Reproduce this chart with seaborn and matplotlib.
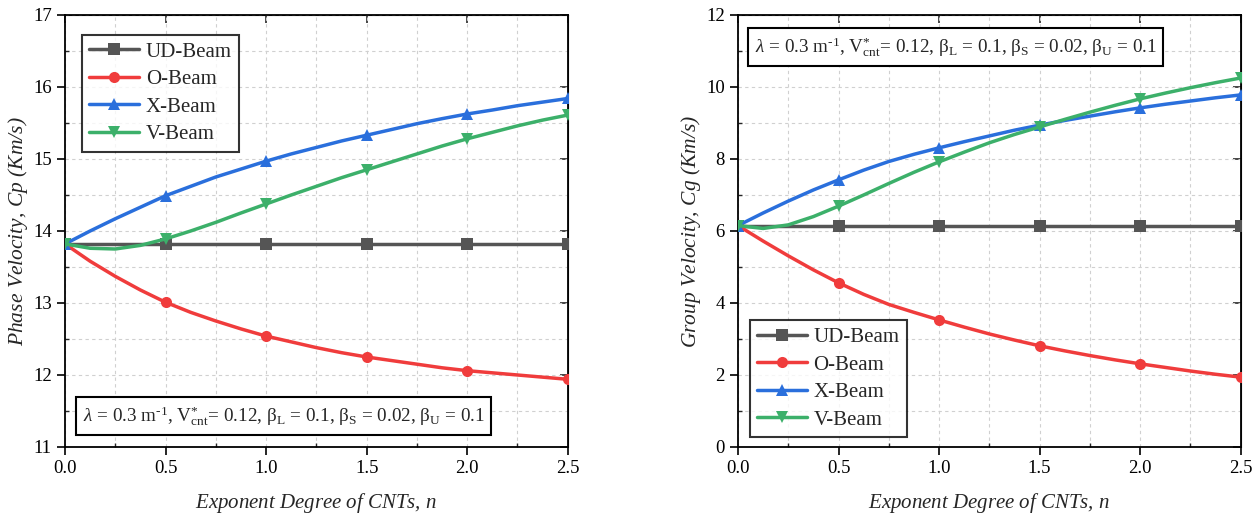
import numpy as np
import pandas as pd
import matplotlib
matplotlib.use("Agg")
import matplotlib.pyplot as plt
import seaborn as sns
from matplotlib.ticker import MultipleLocator

# ---- data ----
n_vals = [0.0, 0.125, 0.25, 0.375, 0.5, 0.625, 0.75, 0.875, 1.0, 1.125, 1.25,
          1.375, 1.5, 1.625, 1.75, 1.875, 2.0, 2.125, 2.25, 2.375, 2.5]
series_names = ["UD-Beam", "O-Beam", "X-Beam", "V-Beam"]

cp_ud = [13.82] * 21
cp_o = [13.82, 13.58, 13.37, 13.18, 13.01, 12.87, 12.75, 12.64, 12.54, 12.46, 12.38,
        12.31, 12.25, 12.20, 12.15, 12.10, 12.06, 12.03, 12.00, 11.97, 11.94]
cp_x = [13.82, 14.00, 14.17, 14.33, 14.49, 14.62, 14.75, 14.86, 14.97, 15.07, 15.16,
        15.25, 15.33, 15.41, 15.49, 15.56, 15.625, 15.68, 15.74, 15.79, 15.84]
cp_v = [13.82, 13.76, 13.75, 13.80, 13.89, 14.00, 14.12, 14.25, 14.375, 14.50, 14.62,
        14.74, 14.85, 14.96, 15.07, 15.18, 15.28, 15.37, 15.46, 15.54, 15.61]

cg_ud = [6.15] * 21
cg_o = [6.15, 5.72, 5.31, 4.92, 4.56, 4.24, 3.96, 3.74, 3.53, 3.33, 3.14,
        2.97, 2.81, 2.67, 2.54, 2.42, 2.31, 2.21, 2.11, 2.02, 1.94]
cg_x = [6.15, 6.50, 6.83, 7.14, 7.42, 7.69, 7.93, 8.13, 8.31, 8.48, 8.64,
        8.80, 8.94, 9.07, 9.19, 9.31, 9.42, 9.52, 9.61, 9.70, 9.78]
cg_v = [6.15, 6.07, 6.17, 6.40, 6.69, 7.00, 7.32, 7.63, 7.92, 8.19, 8.45,
        8.68, 8.89, 9.10, 9.30, 9.49, 9.67, 9.83, 9.98, 10.12, 10.25]

colors = ["#555555", "#f03c3c", "#2a6fdc", "#3cb06a"]
markers = ["s", "o", "^", "v"]

sns.set_style("white")
plt.rcParams["font.family"] = ["Liberation Serif", "DejaVu Serif"]
plt.rcParams["mathtext.fontset"] = "custom"
plt.rcParams["mathtext.rm"] = "Liberation Serif"
plt.rcParams["mathtext.it"] = "Liberation Serif:italic"
plt.rcParams["mathtext.bf"] = "Liberation Serif:bold"

fig = plt.figure(figsize=(12.6, 5.2), dpi=100)
ax1 = fig.add_axes([0.0516, 0.1404, 0.399, 0.8308])
ax2 = fig.add_axes([0.5857, 0.1404, 0.399, 0.8308])

annot = (r"$\lambda$ = 0.3 m$^{\text{-1}}$, V$^{*}_{\rm cnt}$= 0.12, "
         r"$\rm\beta_L$ = 0.1, $\rm\beta_S$ = 0.02, $\rm\beta_U$ = 0.1")


def draw(ax, ys, ylim, ymajor, yminor, ylabel, legend_loc, legend_anchor, text_xy):
    for name, y, c, m in zip(series_names, ys, colors, markers):
        df = pd.DataFrame({"n": n_vals, "v": y})
        sns.lineplot(data=df, x="n", y="v", ax=ax, color=c, lw=2.5, marker=m,
                     markersize=8, markevery=4, markeredgewidth=0,
                     label=name, sort=False, zorder=3)
    ax.set_xlim(0, 2.5)
    ax.set_ylim(*ylim)
    ax.xaxis.set_major_locator(MultipleLocator(0.5))
    ax.xaxis.set_minor_locator(MultipleLocator(0.25))
    ax.yaxis.set_major_locator(MultipleLocator(ymajor))
    ax.yaxis.set_minor_locator(MultipleLocator(yminor))
    ax.xaxis.set_major_formatter(matplotlib.ticker.FormatStrFormatter("%.1f"))
    ax.grid(which="both", ls=(0, (3, 3)), color="#d0d0d0", lw=0.8, zorder=0)
    ax.tick_params(which="major", direction="out", length=6, width=1.2,
                   labelsize=13.5, colors="black", bottom=True, left=True)
    ax.tick_params(which="minor", direction="in", length=3, width=1.0,
                   bottom=True, left=True)
    for s in ax.spines.values():
        s.set_linewidth(1.3)
        s.set_color("black")
    secx = ax.secondary_xaxis("top")
    secx.xaxis.set_major_locator(MultipleLocator(0.5))
    secx.tick_params(direction="in", length=6, width=1.2, labeltop=False)
    secy = ax.secondary_yaxis("right")
    secy.yaxis.set_major_locator(MultipleLocator(ymajor))
    secy.tick_params(direction="in", length=6, width=1.2, labelright=False)
    ax.set_xlabel("Exponent Degree of CNTs, $n$", fontsize=15, style="italic", labelpad=10)
    ax.set_ylabel(ylabel, fontsize=15.5, style="italic", labelpad=2)
    leg = ax.legend(loc=legend_loc, bbox_to_anchor=legend_anchor, fontsize=15,
                    frameon=True, fancybox=False, edgecolor="black",
                    borderaxespad=0, handlelength=2.4, handletextpad=0.3,
                    borderpad=0.35, labelspacing=0.38)
    leg.get_frame().set_linewidth(1.5)
    ax.text(text_xy[0], text_xy[1], annot, transform=ax.transAxes, fontsize=13.8,
            ha="center", va="center", zorder=5,
            bbox=dict(boxstyle="square,pad=0.35", fc="white", ec="black", lw=1.5))


draw(ax1, [cp_ud, cp_o, cp_x, cp_v], (11, 17), 1, 0.5,
     "Phase Velocity, $Cp$ (Km/s)", "upper left", (0.034, 0.954), (0.435, 0.072))
draw(ax2, [cg_ud, cg_o, cg_x, cg_v], (0, 12), 2, 1,
     "Group Velocity, $Cg$ (Km/s)", "lower left", (0.024, 0.023), (0.433, 0.926))

fig.savefig("out.png", dpi=100)
